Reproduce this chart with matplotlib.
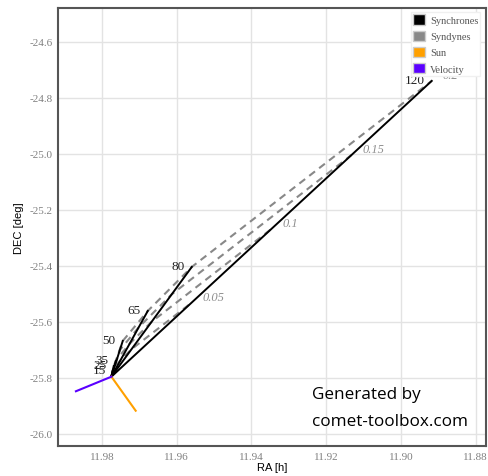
import matplotlib
matplotlib.use("Agg")
import matplotlib.pyplot as plt
from matplotlib.patches import Patch
import numpy as np

# ---- data ----
comet_ra = 11.9775
comet_dec = -25.7955

sync_times = [15, 25, 35, 50, 65, 80, 120]
sync_labels = ["15", "25", "35", "50", "65", "80", "120"]

betas = [0.05, 0.1, 0.15, 0.2]
beta_labels = ["0.05", "0.1", "0.15", "0.2"]

# syndyne points (RA [h], DEC [deg]) at each synchrone time
synd_ra_005 = [11.97741, 11.97734, 11.97721, 11.97674, 11.97507, 11.97212, 11.95606]
synd_dec_005 = [-25.7904, -25.7859, -25.7815, -25.7636, -25.7368, -25.6975, -25.5315]
synd_ra_010 = [11.97732, 11.97719, 11.97692, 11.97598, 11.97263, 11.96674, 11.93462]
synd_dec_010 = [-25.7853, -25.7763, -25.7674, -25.7317, -25.6781, -25.5996, -25.2674]
synd_ra_015 = [11.97723, 11.97703, 11.97662, 11.97522, 11.97020, 11.96136, 11.91317]
synd_dec_015 = [-25.7801, -25.7667, -25.7534, -25.6998, -25.6194, -25.5016, -25.0034]
synd_ra_020 = [11.97714, 11.97687, 11.97633, 11.97446, 11.96776, 11.95598, 11.89173]
synd_dec_020 = [-25.7750, -25.7571, -25.7393, -25.6679, -25.5607, -25.4036, -24.7393]

sun_ra = [11.9775, 11.9710]
sun_dec = [-25.7955, -25.917]
vel_ra = [11.9775, 11.9870]
vel_dec = [-25.7955, -25.8475]

x_ticks = [11.98, 11.96, 11.94, 11.92, 11.90, 11.88]
y_ticks = [-24.6, -24.8, -25.0, -25.2, -25.4, -25.6, -25.8, -26.0]

synd_ra = [synd_ra_005, synd_ra_010, synd_ra_015, synd_ra_020]
synd_dec = [synd_dec_005, synd_dec_010, synd_dec_015, synd_dec_020]

# ---- figure ----
fig = plt.figure(figsize=(4.88, 4.77), dpi=100)
ax = fig.add_axes([58/488, 1-447/477, (486-58)/488, (447-9)/477])

ax.set_xlim(11.9918, 11.8772)
ax.set_ylim(-26.043, -24.479)

ax.grid(True, color="#e3e3e3", linewidth=1.0, zorder=0)
ax.set_axisbelow(True)
for s in ax.spines.values():
    s.set_color("#555555")
    s.set_linewidth(1.5)

ax.set_xticks(x_ticks)
ax.set_xticklabels([f"{v:.2f}" for v in x_ticks])
ax.set_yticks(y_ticks)
ax.set_yticklabels([f"{v:.1f}" for v in y_ticks])
ax.tick_params(length=0, pad=4, labelsize=8, labelcolor="#808080")
for lab in ax.get_xticklabels() + ax.get_yticklabels():
    lab.set_fontfamily("Liberation Serif")

ax.set_xlabel("RA [h]", fontfamily="Liberation Sans", fontsize=8, labelpad=1)
ax.set_ylabel("DEC [deg]", fontfamily="Liberation Sans", fontsize=8, labelpad=4)

# syndynes
for i, b in enumerate(betas):
    xs = [comet_ra] + synd_ra[i]
    ys = [comet_dec] + synd_dec[i]
    ax.plot(xs, ys, color="#888888", linewidth=1.5, dashes=(3.5, 2.5), zorder=2)
    ax.annotate(beta_labels[i], (synd_ra[i][-1], synd_dec[i][-1]),
                xytext=(8, 4), textcoords="offset points", ha="left", va="center",
                fontfamily="Liberation Serif", fontstyle="italic", fontsize=9,
                color="#909090", zorder=3)

# synchrones
for j, t in enumerate(sync_times):
    xs = [comet_ra] + [synd_ra[i][j] for i in range(len(betas))]
    ys = [comet_dec] + [synd_dec[i][j] for i in range(len(betas))]
    ax.plot(xs, ys, color="black", linewidth=1.4, zorder=3)
    ax.annotate(sync_labels[j], (xs[-1], ys[-1]), xytext=(-5, 1),
                textcoords="offset points", ha="right", va="center",
                fontfamily="Liberation Serif", fontsize=9.5, color="#222222", zorder=3)

ax.plot(sun_ra, sun_dec, color="#ffa000", linewidth=1.5, zorder=4)
ax.plot(vel_ra, vel_dec, color="#5a00ff", linewidth=1.5, zorder=4)

handles = [Patch(facecolor="black", edgecolor="#cccccc", label="Synchrones"),
           Patch(facecolor="#888888", edgecolor="#cccccc", label="Syndynes"),
           Patch(facecolor="#ffa000", edgecolor="#cccccc", label="Sun"),
           Patch(facecolor="#5a00ff", edgecolor="#cccccc", label="Velocity")]
leg = ax.legend(handles=handles, loc="upper right", bbox_to_anchor=(0.987, 0.99),
                prop={"family": "Liberation Serif", "size": 7.5},
                handlelength=1.15, handleheight=1.15, handletextpad=0.5,
                labelspacing=0.52, borderpad=0.2, borderaxespad=0.0,
                frameon=True, fancybox=False, edgecolor="#f0f0f0", framealpha=1.0)
leg.set_zorder(10)
for t in leg.get_texts():
    t.set_color("#555555")

ax.text(0.594, 0.119, "Generated by", transform=ax.transAxes,
        fontfamily="Open Sans", fontsize=12.3, color="black", ha="left", va="center")
ax.text(0.594, 0.057, "comet-toolbox.com", transform=ax.transAxes,
        fontfamily="Open Sans", fontsize=12.3, color="black", ha="left", va="center")

fig.savefig("out.png", dpi=100)
